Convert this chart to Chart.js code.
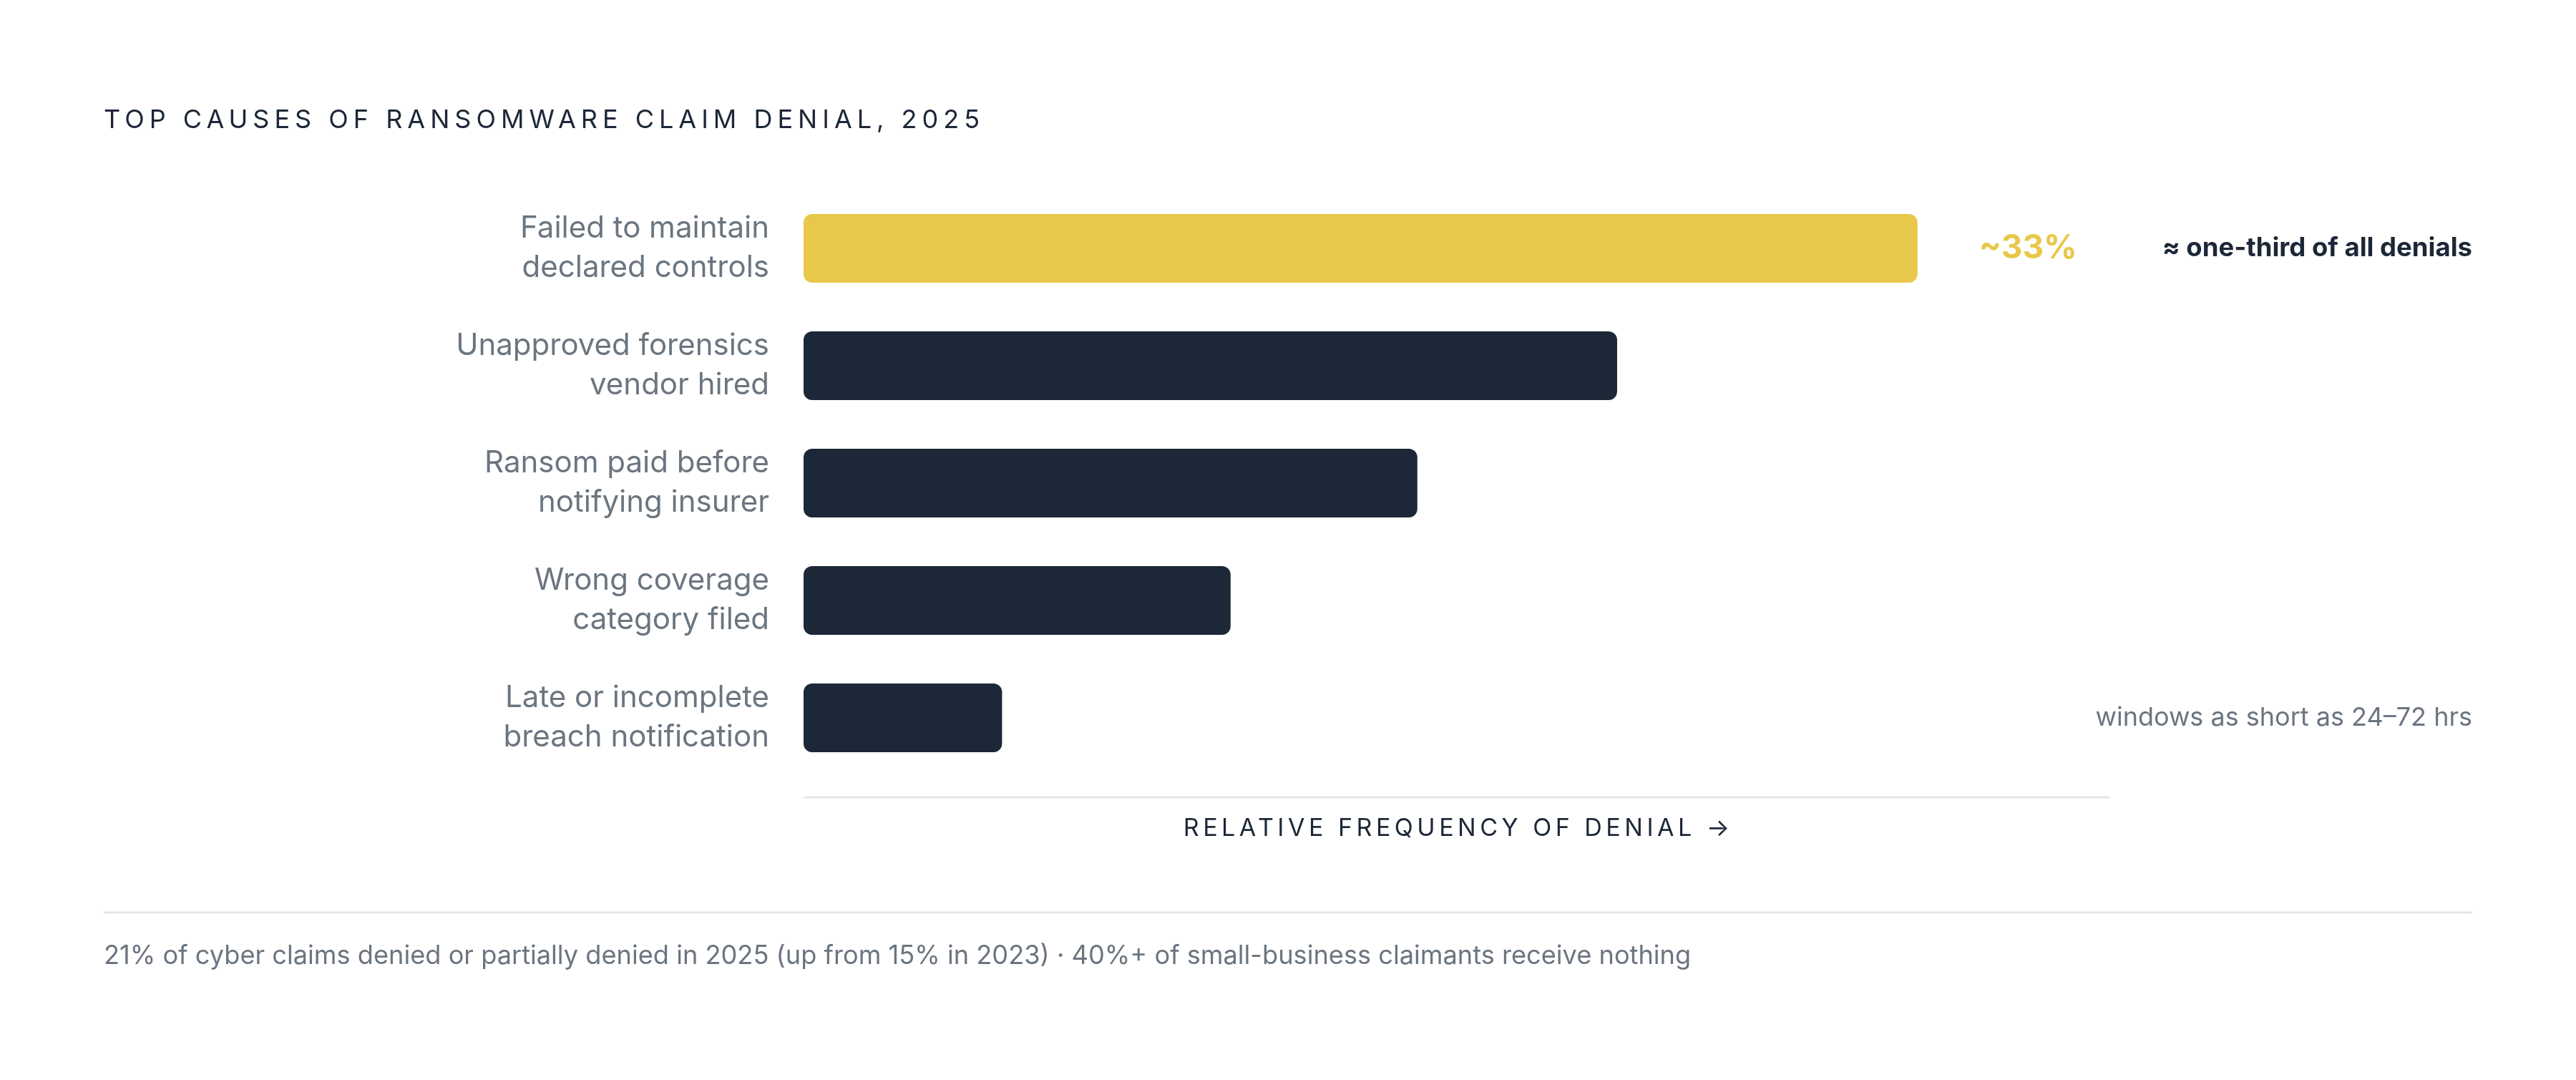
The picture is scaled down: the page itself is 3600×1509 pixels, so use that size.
<!DOCTYPE html>
<html>
<head>
<meta charset="utf-8">
<script src="https://cdn.jsdelivr.net/npm/chart.js@4.4.1/dist/chart.umd.min.js"></script>
<style>
html,body{margin:0;padding:0;background:#ffffff;}
canvas{display:block;}
</style>
</head>
<body>
<canvas id="c" width="3600" height="1509" style="width:3600px;height:1509px"></canvas>
<script>
// ---- data ----
const causes = [
  ["Failed to maintain", "declared controls"],
  ["Unapproved forensics", "vendor hired"],
  ["Ransom paid before", "notifying insurer"],
  ["Wrong coverage", "category filed"],
  ["Late or incomplete", "breach notification"]
];
const frequency = [85.3, 62.3, 47, 32.7, 15.2];
const axisMin = 0;
const axisMax = 100;
const chartTitle = "TOP CAUSES OF RANSOMWARE CLAIM DENIAL, 2025";
const axisTitle = "RELATIVE FREQUENCY OF DENIAL \u2192";
const highlightValue = "~33%";
const highlightNote = "\u2248 one-third of all denials";
const lastNote = "windows as short as 24\u201372 hrs";
const footnote = "21% of cyber claims denied or partially denied in 2025 (up from 15% in 2023) \u00b7 40%+ of small-business claimants receive nothing";

// ---- styles ----
const YELLOW = "#E8C84A";
const NAVY = "#1C2737";
const GRAY = "#6B7580";
const RULE = "#E3E6EA";
const FONT = "Inter, 'DejaVu Sans', sans-serif";

const barColors = frequency.map((v, i) => i === 0 ? YELLOW : NAVY);

const decorations = {
  id: "decorations",
  afterDraw(chart) {
    const ctx = chart.ctx;
    const xs = chart.scales.x;
    const ys = chart.scales.y;
    ctx.save();

    // title
    ctx.fillStyle = NAVY;
    ctx.font = "400 36px " + FONT;
    ctx.letterSpacing = "7px";
    ctx.textAlign = "left";
    ctx.textBaseline = "middle";
    ctx.fillText(chartTitle, 145, 168);

    // axis rule
    const axisY = chart.chartArea.bottom + 29;
    ctx.letterSpacing = "0px";
    ctx.strokeStyle = RULE;
    ctx.lineWidth = 3;
    ctx.beginPath();
    ctx.moveTo(xs.left, axisY);
    ctx.lineTo(xs.right, axisY);
    ctx.stroke();

    // axis title
    ctx.fillStyle = NAVY;
    ctx.font = "400 34px " + FONT;
    ctx.letterSpacing = "5.5px";
    ctx.textAlign = "center";
    ctx.fillText(axisTitle, (xs.left + xs.right) / 2 + 2.75, axisY + 44);

    // highlight value
    ctx.letterSpacing = "0px";
    const y0 = ys.getPixelForValue(0);
    ctx.fillStyle = YELLOW;
    ctx.font = "700 46px " + FONT;
    ctx.textAlign = "left";
    ctx.fillText(highlightValue, xs.getPixelForValue(frequency[0]) + 86, y0);

    // highlight note
    ctx.fillStyle = NAVY;
    ctx.font = "700 36.5px " + FONT;
    ctx.textAlign = "right";
    ctx.fillText(highlightNote, 3455, y0);

    // last note
    ctx.fillStyle = GRAY;
    ctx.font = "400 36px " + FONT;
    ctx.textAlign = "right";
    ctx.fillText(lastNote, 3455, ys.getPixelForValue(frequency.length - 1));

    // separator
    ctx.strokeStyle = RULE;
    ctx.lineWidth = 3;
    ctx.beginPath();
    ctx.moveTo(145, 1275);
    ctx.lineTo(3455, 1275);
    ctx.stroke();

    // footnote
    ctx.fillStyle = GRAY;
    ctx.font = "400 36.2px " + FONT;
    ctx.textAlign = "left";
    ctx.fillText(footnote, 145, 1336);

    ctx.restore();
  }
};

new Chart(document.getElementById("c"), {
  type: "bar",
  data: {
    labels: causes,
    datasets: [{
      data: frequency,
      backgroundColor: barColors,
      borderRadius: 12,
      borderSkipped: false,
      barPercentage: 0.585,
      categoryPercentage: 1.0
    }]
  },
  options: {
    indexAxis: "y",
    responsive: false,
    devicePixelRatio: 1,
    animation: false,
    layout: { padding: { left: 0, right: 652, top: 265, bottom: 424 } },
    plugins: { legend: { display: false }, tooltip: { enabled: false } },
    scales: {
      x: {
        display: false,
        min: axisMin,
        max: axisMax
      },
      y: {
        grid: { display: false },
        border: { display: false },
        afterFit(scale) { scale.width = 1123; },
        ticks: {
          padding: 40,
          color: GRAY,
          font: { family: FONT, size: 42, lineHeight: 1.3 }
        }
      }
    }
  },
  plugins: [decorations]
});
</script>
</body>
</html>
